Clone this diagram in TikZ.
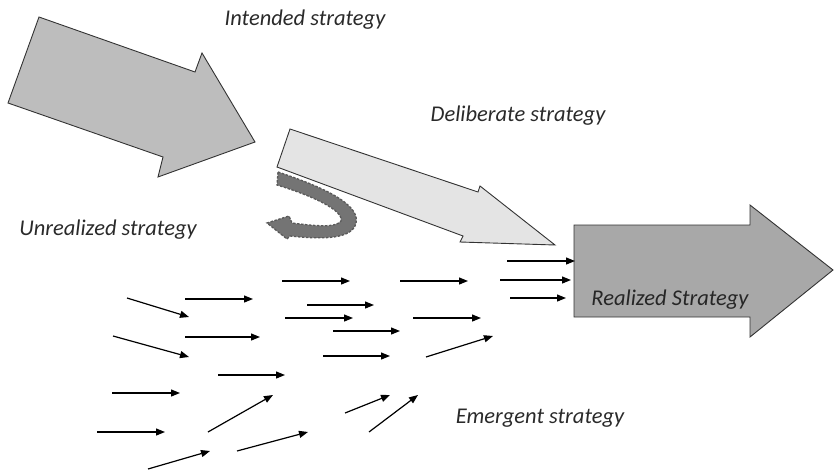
\documentclass[tikz,border=0pt]{standalone}
\usepackage{fontspec}
\setmainfont{Carlito}
\usetikzlibrary{arrows.meta}
\definecolor{intendedgray}{HTML}{BDBDBD}
\definecolor{delibgray}{HTML}{E4E4E4}
\definecolor{realgray}{HTML}{A8A8A8}
\definecolor{curlgray}{HTML}{747474}
\definecolor{txtgray}{HTML}{2A2A2A}
\tikzset{
  bigarrow/.style={draw=black!80, line width=0.9pt, line join=miter},
  lbl/.style={font=\itshape\fontsize{22.5}{24}\selectfont, text=txtgray, inner sep=0pt},
  small/.style={line width=1.2pt, -{Triangle[length=9pt,width=7pt]}}
}
\begin{document}
\begin{tikzpicture}[x=1pt,y=-1pt]
\useasboundingbox (0,0) rectangle (835,471);
% intended strategy arrow
\draw[bigarrow, fill=intendedgray] (39,17) -- (195,72) -- (202,53) -- (255,142) -- (158,177) -- (163,157) -- (8,103) -- cycle;
% deliberate strategy arrow
\draw[bigarrow, fill=delibgray] (290,129) -- (478,192) -- (480,186) -- (555,245) -- (460,242) -- (463,236) -- (277,167) -- cycle;
% unrealized curl
\draw[draw=black!65, fill=curlgray, dash pattern=on 2.5pt off 1.5pt, line width=1.3pt]
  (278,172) .. controls (320,186) and (365,205) .. (355,226)
  .. controls (348,240) and (318,239) .. (290,236)
  -- (287,239) -- (267,223) -- (289,216) -- (292,223)
  .. controls (315,226) and (336,228) .. (341,221)
  .. controls (344,210) and (310,195) .. (277,185) -- cycle;
% realized strategy arrow
\draw[bigarrow, fill=realgray] (574,225) -- (750,225) -- (750,205) -- (833,270) -- (750,337) -- (750,317) -- (574,317) -- cycle;
% arrows into realized
\draw[small] (507,261) -- (575,261);
\draw[small] (500,280) -- (571,280);
\draw[small] (510,298) -- (566,298);
% emergent arrows
\draw[small] (282,281) -- (350,281);
\draw[small] (400,281) -- (468,281);
\draw[small] (127,298) -- (189,317);
\draw[small] (185,299) -- (253,299);
\draw[small] (307,305) -- (374,305);
\draw[small] (285,318) -- (353,318);
\draw[small] (413,318) -- (481,318);
\draw[small] (333,331) -- (400,331);
\draw[small] (113,336) -- (189,357);
\draw[small] (185,337) -- (260,337);
\draw[small] (323,356) -- (390,356);
\draw[small] (426,357) -- (493,336);
\draw[small] (218,375) -- (285,375);
\draw[small] (112,393) -- (180,393);
\draw[small] (208,432) -- (273,395);
\draw[small] (345,413) -- (390,395);
\draw[small] (369,432) -- (418,395);
\draw[small] (97,432) -- (165,432);
\draw[small] (237,451) -- (308,432);
\draw[small] (148,469) -- (210,451);
% labels
\node[lbl] (intended) at (305,20) {Intended strategy};
\node[lbl] (deliberate) at (518,116) {Deliberate strategy};
\node[lbl] (unrealized) at (108,230) {Unrealized strategy};
\node[lbl, text=black!85] (realized) at (670,300) {Realized Strategy};
\node[lbl] (emergent) at (540,418) {Emergent strategy};
\end{tikzpicture}
\end{document}
